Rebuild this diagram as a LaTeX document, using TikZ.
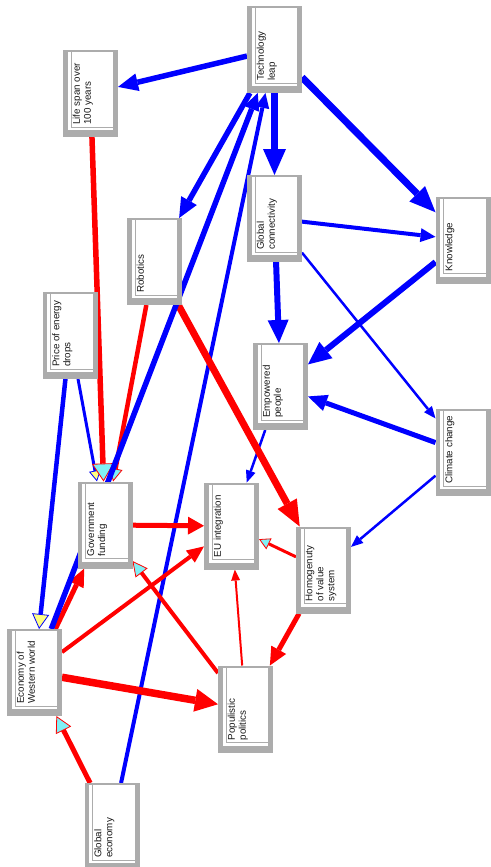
\documentclass[tikz,border=0pt]{standalone}
\usepackage{fontspec}
\newfontfamily\lsans{Liberation Sans}
\usetikzlibrary{arrows.meta}
\definecolor{myblue}{RGB}{0,0,255}
\definecolor{myred}{RGB}{255,0,0}
\definecolor{boxgray}{RGB}{172,172,172}
\definecolor{tipcyan}{RGB}{128,240,245}
\definecolor{tipyellow}{RGB}{255,255,128}
\definecolor{txt}{RGB}{25,25,25}
\pgfdeclarelayer{bg}
\pgfdeclarelayer{edges}
\pgfsetlayers{bg,edges,main}
\begin{document}
\begin{tikzpicture}[x=1pt,y=1pt,
  box/.style={rectangle, fill=boxgray, minimum width=55pt, minimum height=87pt,
    inner sep=0pt, outer sep=0pt,
    path picture={
      \fill[white] ([shift={(4.5pt,-2pt)}]path picture bounding box.north west)
        rectangle ([shift={(-5pt,7pt)}]path picture bounding box.south east);
      \draw[boxgray, line width=1pt] ([shift={(8pt,-2pt)}]path picture bounding box.north west)
        |- ([shift={(-5pt,10pt)}]path picture bounding box.south east);
    }},
  lbl/.style={rotate=90, anchor=north west, inner sep=0pt, align=left, text=txt,
    font=\lsans\fontsize{9.8}{11}\selectfont},
  bw/.style={draw=myblue, line width=#1},
  rw/.style={draw=myred, line width=#1},
  sol/.style 2 args={-{Triangle[length=#1,width=#2,line width=0pt]}},
  cy/.style 2 args={-{Triangle[length=#1,width=#2,fill=tipcyan,line width=0.8pt]}},
  ye/.style 2 args={-{Triangle[length=#1,width=#2,fill=tipyellow,line width=0.8pt]}}
]
\begin{pgfonlayer}{bg}
\fill[white] (0,0) rectangle (490,-867);
\end{pgfonlayer}
\useasboundingbox (0,0) rectangle (490,-867);

% boxes
\node[box] (T)  at (274.5,-49.5) {};
\node[box] (L)  at (90.5,-93.5) {};
\node[box] (R)  at (154.5,-261.5) {};
\node[box] (GC) at (274.5,-218.5) {};
\node[box] (K)  at (463,-240) {};
\node[box] (P)  at (70,-335.5) {};
\node[box] (GF) at (105,-525) {};
\node[box] (EU) at (231.5,-526) {};
\node[box] (EP) at (280.5,-386.5) {};
\node[box] (CC) at (463,-452.5) {};
\node[box] (H)  at (323.5,-570) {};
\node[box] (EW) at (34.5,-672.5) {};
\node[box] (PP) at (245.5,-709) {};
\node[box] (GE) at (112,-826.5) {};

% labels
\node[lbl] (tT)  at ([shift={(9.5pt,12pt)}]T.south west)  {Technology\\leap};
\node[lbl] (tL)  at ([shift={(9.5pt,12pt)}]L.south west)  {Life span over\\100 years};
\node[lbl] (tR)  at ([shift={(9.5pt,12pt)}]R.south west)  {Robotics};
\node[lbl] (tGC) at ([shift={(9.5pt,12pt)}]GC.south west) {Global\\connectivity};
\node[lbl] (tK)  at ([shift={(9.5pt,12pt)}]K.south west)  {Knowledge};
\node[lbl] (tP)  at ([shift={(9.5pt,12pt)}]P.south west)  {Price of energy\\drops};
\node[lbl] (tGF) at ([shift={(9.5pt,12pt)}]GF.south west) {Government\\funding};
\node[lbl] (tEU) at ([shift={(9.5pt,12pt)}]EU.south west) {EU integration};
\node[lbl] (tEP) at ([shift={(9.5pt,12pt)}]EP.south west) {Empowered\\people};
\node[lbl] (tCC) at ([shift={(9.5pt,12pt)}]CC.south west) {Climate change};
\node[lbl] (tH)  at ([shift={(9.5pt,12pt)}]H.south west)  {Homogenuty\\of value\\system};
\node[lbl] (tEW) at ([shift={(9.5pt,12pt)}]EW.south west) {Economy of\\Western world};
\node[lbl] (tPP) at ([shift={(9.5pt,12pt)}]PP.south west) {Populistic\\politics};
\node[lbl] (tGE) at ([shift={(9.5pt,12pt)}]GE.south west) {Global\\economy};

\begin{pgfonlayer}{edges}
% blue links
\draw[bw=5.5pt, sol={20pt}{18pt}] (T) -- (L);
\draw[bw=5.5pt, sol={20pt}{18pt}] (T) -- (R);
\draw[bw=7pt, sol={26pt}{23pt}] (T) -- (GC);
\draw[bw=7pt, sol={26pt}{22pt}] (T) -- (K);
\draw[bw=4pt, sol={15pt}{14pt}] (GC) -- (K);
\draw[bw=2.5pt, sol={12pt}{10pt}] (GC) -- (CC);
\draw[bw=6pt, sol={23pt}{21pt}] (GC) -- (EP);
\draw[bw=6pt, sol={23pt}{21pt}] (K) -- (EP);
\draw[bw=5pt, sol={19pt}{17pt}] (CC) -- (EP);
\draw[bw=2.5pt, sol={12pt}{10pt}] (CC) -- (H);
\draw[bw=2.5pt, sol={12pt}{10pt}] (EP) -- (EU);
\draw[bw=4pt, sol={15pt}{14pt}] (GE) -- (T);
\draw[bw=3pt, ye={11pt}{12pt}] (P) -- (GF);
\draw[bw=4.5pt, ye={15pt}{17pt}] (P) -- (EW);
% red links
\draw[rw=7pt, sol={26pt}{22pt}] (R) -- (H);
\draw[rw=4.5pt, cy={13pt}{14pt}] (R) -- (GF);
\draw[rw=5.5pt, cy={18pt}{22pt}] (L) -- (GF);
\draw[rw=5pt, sol={16pt}{18pt}] (GF) -- (EU);
\draw[rw=5pt, sol={18pt}{16pt}] (EW) -- (GF);
\draw[rw=4pt, sol={17pt}{15pt}] (EW) -- (EU);
\draw[rw=7.5pt, sol={23pt}{23pt}] (EW) -- (PP);
\draw[rw=4pt, cy={15pt}{15pt}] (PP) -- (GF);
\draw[rw=2pt, sol={11pt}{9pt}] (PP) -- (EU);
\draw[rw=3pt, cy={11pt}{12pt}] (H) -- (EU);
\draw[rw=5pt, sol={18pt}{17pt}] (H) -- (PP);
\draw[rw=5pt, cy={16pt}{17pt}] (GE) -- (EW);
% blue link passing behind Government funding
\draw[bw=5.5pt, sol={17pt}{16pt}] (EW) -- (T);
\end{pgfonlayer}
\end{tikzpicture}
\end{document}
